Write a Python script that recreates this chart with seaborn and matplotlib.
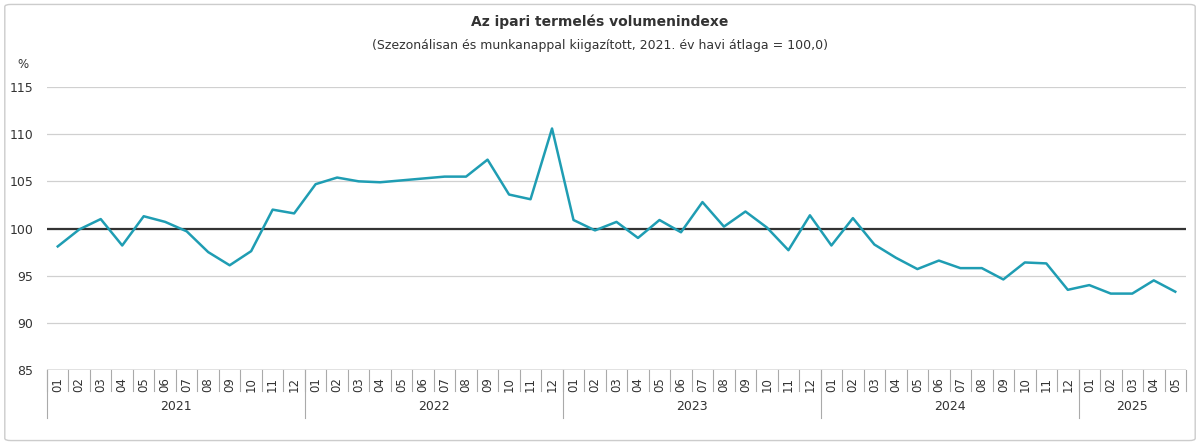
import matplotlib
matplotlib.use("Agg")
import matplotlib.pyplot as plt
import seaborn as sns
import pandas as pd
from matplotlib.patches import FancyBboxPatch

years = ["2021", "2022", "2023", "2024", "2025"]
months_per_year = [12, 12, 12, 12, 5]
v2021 = [98.1, 99.9, 101.0, 98.2, 101.3, 100.7, 99.7, 97.5, 96.1, 97.6, 102.0, 101.6]
v2022 = [104.7, 105.4, 105.0, 104.9, 105.1, 105.3, 105.5, 105.5, 107.3, 103.6, 103.1, 110.6]
v2023 = [100.9, 99.8, 100.7, 99.0, 100.9, 99.6, 102.8, 100.2, 101.8, 100.1, 97.7, 101.4]
v2024 = [98.2, 101.1, 98.3, 96.9, 95.7, 96.6, 95.8, 95.8, 94.6, 96.4, 96.3, 93.5]
v2025 = [94.0, 93.1, 93.1, 94.5, 93.3]
yticks = [85, 90, 95, 100, 105, 110, 115]

values = v2021 + v2022 + v2023 + v2024 + v2025
labels = [f"{m:02d}" for n in months_per_year for m in range(1, n + 1)]
df = pd.DataFrame({"i": range(len(values)), "v": values})

fig = plt.figure(figsize=(12, 4.45), dpi=100)
fig.patches.append(FancyBboxPatch((0.004, 0.01), 0.992, 0.98, boxstyle="round,pad=0,rounding_size=0.005",
                                  transform=fig.transFigure, fc="none", ec="#cccccc", lw=1, zorder=-10))
ax = fig.add_axes([47/1200, 1-370/445, (1186-47)/1200, (370-87)/445])
ax.set_facecolor("none")
sns.lineplot(data=df, x="i", y="v", ax=ax, color="#1f9db3", lw=1.8)
n = len(values)
ax.set_xlim(-0.5, n - 0.5)
ax.set_ylim(85, 115)
ax.set_yticks(yticks)
ax.set_yticklabels([str(t) for t in yticks], fontsize=9, color="#333333")
ax.tick_params(axis="y", length=0, pad=10)
for t in yticks:
    ax.axhline(t, color="#d0d0d0", lw=0.9, zorder=0)
ax.axhline(100, color="#333333", lw=1.6, zorder=1)
ax.axhline(85, color="#888888", lw=1, zorder=1)
for s in ax.spines.values():
    s.set_visible(False)
ax.set_xticks([])
ax.set_xlabel(""); ax.set_ylabel("")

tr = ax.get_xaxis_transform()
for i, lab in enumerate(labels):
    ax.text(i, -0.025, lab, rotation=90, ha="center", va="top", fontsize=8.5, color="#333333",
            transform=tr, clip_on=False)
for i in range(n + 1):
    ax.plot([i - 0.5, i - 0.5], [0, -0.075], transform=tr, color="#aaaaaa", lw=0.8, clip_on=False)
start = 0
for y, k in zip(years, months_per_year):
    ax.plot([start - 0.5, start - 0.5], [0, -0.17], transform=tr, color="#aaaaaa", lw=0.8, clip_on=False)
    ax.text(start + k / 2 - 0.5, -0.13, y, ha="center", va="center", fontsize=9, color="#333333",
            transform=tr, clip_on=False)
    start += k

fig.text(0.5, 1 - 22/445, "Az ipari termelés volumenindexe", ha="center", va="center",
         fontsize=10, fontweight="bold", color="#333333")
fig.text(0.5, 1 - 46/445, "(Szezonálisan és munkanappal kiigazított, 2021. év havi átlaga = 100,0)",
         ha="center", va="center", fontsize=9, color="#333333")
fig.text(17/1200, 1 - 65/445, "%", ha="left", va="center", fontsize=8.5, color="#333333")

fig.savefig("out.png", dpi=100)
